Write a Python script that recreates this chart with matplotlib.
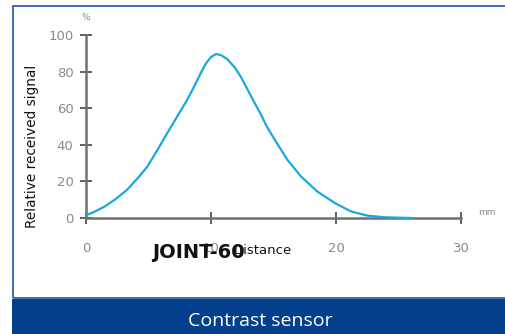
import matplotlib
matplotlib.use("Agg")
import matplotlib.pyplot as plt
from matplotlib.patches import Rectangle

# values
distance = [0, 0.7, 1.5, 2.4, 3.3, 4.1, 4.9, 5.7, 6.5, 7.3, 8.1, 8.7, 9.2, 9.6, 10.0,
            10.4, 10.8, 11.3, 11.9, 12.4, 12.9, 13.4, 14.0, 14.5, 15.1, 16.1, 17.2, 18.5,
            19.9, 21.2, 22.5, 23.9, 26.0]
signal = [1.5, 3.5, 6.3, 10.5, 15.5, 21.5, 28.0, 37.0, 46.4, 55.5, 64.6, 72.5, 79.5, 84.5, 88.0,
          89.6, 89.0, 86.8, 82.3, 77.0, 70.5, 64.0, 56.5, 49.5, 42.8, 31.9, 22.7, 14.5,
          8.2, 3.6, 1.3, 0.4, 0.0]
x_ticks = [0, 10, 20, 30]
y_ticks = [0, 20, 40, 60, 80, 100]

fig = plt.figure(figsize=(5.06, 3.34), dpi=100)

# outer frame and footer band
fig.patches.append(Rectangle((13 / 506, 36 / 334), 1.0, 292 / 334, transform=fig.transFigure,
                             fill=False, edgecolor="#2d62ad", linewidth=1.3))
fig.patches.append(Rectangle((12 / 506, 0), 1.0, 35 / 334, transform=fig.transFigure,
                             facecolor="#033f8b", edgecolor="none"))
fig.text(260 / 506, 13 / 334, "Contrast sensor", color="white", fontsize=14,
         ha="center", va="center", family="Open Sans")

ax = fig.add_axes([86 / 506, 116 / 334, 375 / 506, 183 / 334])
ax.plot(distance, signal, color="#1ba7e0", linewidth=1.6, clip_on=False, zorder=3,
        solid_joinstyle="round")

ax.set_xlim(0, 30)
ax.set_ylim(0, 100)
for s in ["top", "right"]:
    ax.spines[s].set_visible(False)
for s in ["left", "bottom"]:
    ax.spines[s].set_color("#707070")
    ax.spines[s].set_linewidth(1.8)

ax.set_xticks(x_ticks)
ax.set_yticks(y_ticks)
ax.tick_params(axis="x", direction="inout", length=9, width=1.2, color="#444444",
               labelcolor="#8a8a8a", labelsize=9.5, pad=13)
ax.tick_params(axis="y", direction="inout", length=8, width=1.2, color="#444444",
               labelcolor="#8a8a8a", labelsize=9.5, pad=5)

ax.text(0, 109.5, "%", color="#8a8a8a", fontsize=6.5, ha="center", va="center", clip_on=False)
ax.text(32.1, 3.2, "mm", color="#8a8a8a", fontsize=6.5, ha="center", va="center", clip_on=False)

fig.text(198 / 506, 81 / 334, "JOINT-60", fontsize=14, fontweight="bold", color="#111111",
         ha="center", va="center")
fig.text(263 / 506, 83 / 334, "Distance", fontsize=9.5, color="#111111", ha="center", va="center")
fig.text(32 / 506, (334 - 146) / 334, "Relative received signal", fontsize=9.8, color="#111111",
         rotation=90, ha="center", va="center")

fig.savefig("out.png", dpi=100)
